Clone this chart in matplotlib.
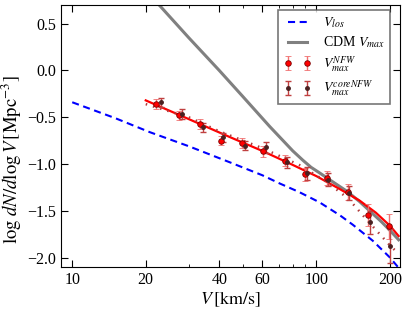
import numpy as np
import matplotlib
matplotlib.use("Agg")
from matplotlib import pyplot as plt
from matplotlib.ticker import FixedLocator, NullFormatter

plt.rcParams['font.family'] = ['Liberation Serif', 'DejaVu Serif']
plt.rcParams['mathtext.fontset'] = 'stix'

# line-of-sight velocity function
v_los = [10, 15, 20.8, 30, 44, 60, 71, 85, 103, 125, 141, 170, 200, 217]
n_los = [-0.34, -0.51, -0.66, -0.81, -0.98, -1.12, -1.21, -1.30, -1.41, -1.55, -1.65, -1.82, -2.0, -2.11]

# CDM Vmax function
v_cdm = [21.8, 30, 40, 50, 64.4, 80, 88, 95, 103, 115, 133, 150, 165, 185, 200, 217]
n_cdm = [0.75, 0.35, 0.0, -0.28, -0.60, -0.86, -0.96, -1.035, -1.095, -1.18, -1.29, -1.40, -1.50, -1.62, -1.71, -1.81]

# NFW fit
v_fit = [20, 30, 44, 60, 80, 100, 125, 150, 175, 200, 217]
n_fit = [-0.32, -0.52, -0.71, -0.86, -1.01, -1.13, -1.27, -1.39, -1.52, -1.66, -1.77]

# coreNFW fit
v_core_fit = [20, 30, 40, 60, 85, 110, 135, 165, 200, 217]
n_core_fit = [-0.36, -0.50, -0.65, -0.83, -1.01, -1.19, -1.37, -1.63, -1.87, -1.96]

# NFW points
v_nfw = [22.1, 27.4, 33.3, 40.5, 49.6, 60.6, 74.5, 89.5, 110, 135, 163, 199]
n_nfw = [-0.357, -0.48, -0.571, -0.75, -0.775, -0.864, -0.964, -1.11, -1.15, -1.30, -1.543, -1.668]
e_nfw = [0.05, 0.05, 0.05, 0.05, 0.05, 0.06, 0.06, 0.07, 0.07, 0.09, 0.12, 0.13]

# coreNFW points
v_core = [23.2, 28.2, 34.4, 41.6, 50.9, 61.9, 75.6, 91.2, 111.7, 136, 165, 200.5]
n_core = [-0.34, -0.464, -0.607, -0.714, -0.804, -0.82, -0.98, -1.10, -1.17, -1.31, -1.625, -1.88]
e_core = [0.05, 0.05, 0.05, 0.05, 0.05, 0.06, 0.06, 0.07, 0.07, 0.08, 0.12, 0.18]

xticks = [10, 20, 40, 60, 100, 200]

fig = plt.figure(figsize=(4.07, 3.10), dpi=100)
ax = fig.add_axes([0.150, 0.139, 0.833, 0.845])

ax.plot(v_los, n_los, color='b', ls='--', lw=1.5, dashes=(3.4, 2.2), label=r'$V_{los}$')
ax.plot(v_cdm, n_cdm, color='gray', lw=2.2, label=r'CDM $V_{max}$')
ax.plot(v_fit, n_fit, color='r', lw=1.6)
ax.plot(v_core_fit, n_core_fit, color='#b03a3a', lw=1.8, dashes=(0.6, 2.4))
ax.errorbar(v_nfw, n_nfw, yerr=e_nfw, fmt='o', color='r', ms=4, mec='#7a0000', mew=0.6,
            ecolor='#f07070', elinewidth=1, capsize=2.5, label=r'$V_{max}^{NFW}$')
ax.errorbar(v_core, n_core, yerr=e_core, fmt='o', color='#4a2020', ms=2.5, mec='#4a2020',
            ecolor='#c04040', elinewidth=1, capsize=2.5, label=r'$V_{max}^{coreNFW}$')

ax.set_xscale('log')
ax.set_xlim(9, 220)
ax.set_ylim(-2.1, 0.7)
ax.xaxis.set_major_locator(FixedLocator(xticks))
ax.set_xticklabels([str(t) for t in xticks])
ax.xaxis.set_minor_locator(FixedLocator([30, 50, 70, 80, 90]))
ax.xaxis.set_minor_formatter(NullFormatter())
ax.set_yticks([-2.0, -1.5, -1.0, -0.5, 0.0, 0.5])
ax.tick_params(which='both', direction='in', top=True, right=True, labelsize=11.5)
ax.tick_params(which='major', length=5)
ax.tick_params(which='minor', length=2.5)

ax.set_xlabel(r'$V\,[\mathrm{km/s}]$', fontsize=13, labelpad=1)
ax.set_ylabel(r'$\log\,dN/d\log V\,[\mathrm{Mpc}^{-3}]$', fontsize=13.5)
ax.yaxis.set_label_coords(-0.108, 0.41)

leg = ax.legend(loc='upper right', numpoints=2, fontsize=10, fancybox=False,
                handlelength=2.0, borderpad=0.4, labelspacing=0.3, borderaxespad=0,
                bbox_to_anchor=(0.97, 0.981))
leg.get_frame().set_edgecolor('#555555')
leg.get_frame().set_linewidth(1.2)

fig.savefig('out.png', dpi=100)
